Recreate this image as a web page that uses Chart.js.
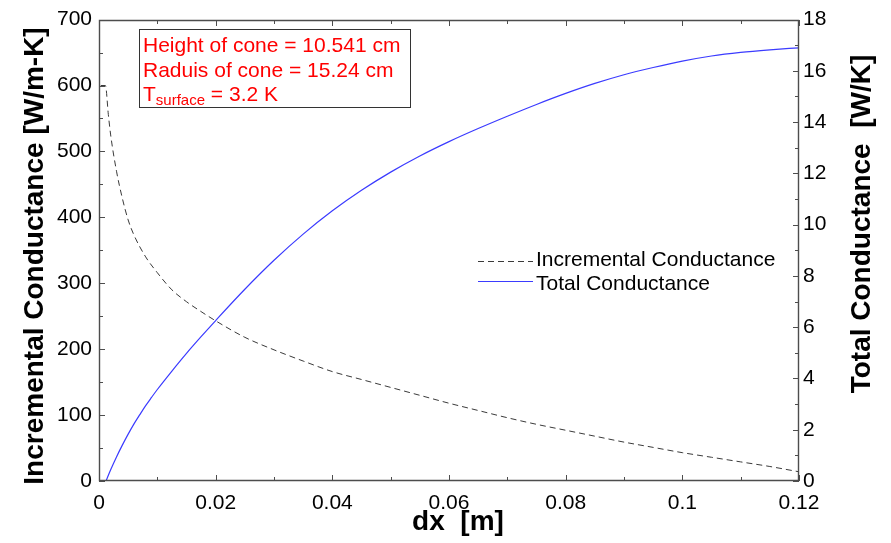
<!DOCTYPE html>
<html><head><meta charset="utf-8">
<script src="https://cdn.jsdelivr.net/npm/chart.js@4/dist/chart.umd.min.js"></script>
<style>html,body{margin:0;padding:0;background:#fff;}#wrap{position:relative;width:891px;height:543px;}</style>
</head><body><div id="wrap"><canvas id="c" width="891" height="543"></canvas></div>
<script>
// ---- data ----
const incDx  = [0.0003,0.0011,0.0016,0.002,0.003,0.004,0.005,0.006,0.008,0.010,0.0125,0.015,0.0175,0.02,0.025,0.03,0.035,0.04,0.045,0.05,0.055,0.06,0.065,0.07,0.075,0.08,0.085,0.09,0.095,0.1,0.105,0.11,0.115,0.12];
const incVal = [600,600,556,525,470,429,396,373,340,316,290,272,257,243,218,199,182,166,154,142,130,118,107,96,86,77,68,59,51,43,36,29,22,14];
const totDx  = [0.0012,0.002,0.003,0.004,0.005,0.006,0.007,0.008,0.009,0.010,0.0125,0.015,0.0175,0.02,0.025,0.03,0.035,0.04,0.045,0.05,0.055,0.06,0.065,0.07,0.075,0.08,0.085,0.09,0.095,0.1,0.105,0.11,0.115,0.12];
const totVal = [0,0.44,0.94,1.40,1.83,2.23,2.59,2.94,3.26,3.57,4.29,4.98,5.63,6.26,7.48,8.61,9.63,10.54,11.34,12.05,12.68,13.24,13.75,14.23,14.69,15.12,15.51,15.85,16.13,16.38,16.58,16.72,16.82,16.90];
const seriesNames = ['Incremental Conductance','Total Conductance'];
const xTicks = [0,0.02,0.04,0.06,0.08,0.1,0.12];
const xTickLabels = ['0','0.02','0.04','0.06','0.08','0.1','0.12'];
const leftTicks = [0,100,200,300,400,500,600,700];
const rightTicks = [0,2,4,6,8,10,12,14,16,18];
const xTitle = 'dx  [m]';
const leftTitle = 'Incremental Conductance [W/m-K]';
const rightTitle = 'Total Conductance  [W/K]';
const noteLines = ['Height of cone = 10.541 cm','Raduis of cone = 15.24 cm'];
const noteLast = ['T','surface',' = 3.2 K'];

const FONT = 'Liberation Sans, Arial, sans-serif';

const decor = {
  id:'decor',
  afterDraw(chart){
    const ctx = chart.ctx, a = chart.chartArea;
    const sx = chart.scales.x, sl = chart.scales.y, sr = chart.scales.y2;
    ctx.save();
    ctx.setLineDash([]);
    ctx.globalAlpha = 1;
    // frame
    ctx.strokeStyle = '#4d4d4d'; ctx.lineWidth = 1.4;
    const L = Math.round(sx.getPixelForValue(0)), R = Math.round(sx.getPixelForValue(0.12));
    const T = Math.round(sl.getPixelForValue(700)), B = Math.round(sl.getPixelForValue(0));
    ctx.beginPath();
    ctx.rect(L + 0.5, T + 0.5, R - L - 1, B - T - 1);
    ctx.stroke();
    ctx.lineWidth = 1;
    ctx.beginPath();
    for (let i=0;i<=12;i++){
      const px = Math.round(sx.getPixelForValue(i*0.01)) + 0.5, len = i%2===0?6:4;
      ctx.moveTo(px, B); ctx.lineTo(px, B-len);
      ctx.moveTo(px, T); ctx.lineTo(px, T+len);
    }
    for (let i=0;i<=14;i++){
      const py = Math.round(sl.getPixelForValue(i*50)) + 0.5, len = i%2===0?6:4;
      ctx.moveTo(L, py); ctx.lineTo(L+len, py);
    }
    for (let i=0;i<=18;i++){
      const py = Math.round(sr.getPixelForValue(i)) + 0.5, len = i%2===0?6:4;
      ctx.moveTo(R, py); ctx.lineTo(R-len, py);
    }
    ctx.stroke();
    // axis titles
    ctx.fillStyle = '#000';
    ctx.font = 'bold 28px ' + FONT;
    ctx.textAlign = 'center'; ctx.textBaseline = 'middle';
    ctx.fillText(xTitle, 458, 522);
    ctx.save(); ctx.translate(35, 256); ctx.rotate(-Math.PI/2); ctx.fillText(leftTitle, 0, 0); ctx.restore();
    ctx.save(); ctx.translate(862, 224); ctx.rotate(-Math.PI/2); ctx.fillText(rightTitle, 0, 0); ctx.restore();
    // legend
    ctx.font = '21px ' + FONT; ctx.textAlign = 'left'; ctx.textBaseline = 'alphabetic';
    const legY = [261.5, 281.5], legBase = [266, 289.5];
    chart.data.datasets.forEach((ds, i) => {
      ctx.save();
      ctx.strokeStyle = ds.borderColor; ctx.lineWidth = 1; ctx.setLineDash(ds.borderDash || []);
      ctx.beginPath(); ctx.moveTo(478, legY[i]); ctx.lineTo(533, legY[i]); ctx.stroke();
      ctx.restore();
      ctx.fillStyle = '#000';
      ctx.fillText(ds.label, 536, legBase[i]);
    });
    // note box
    ctx.fillStyle = '#fff'; ctx.fillRect(139.5, 29.5, 271, 78);
    ctx.strokeStyle = '#333'; ctx.lineWidth = 1; ctx.strokeRect(139.5, 29.5, 271, 78);
    ctx.fillStyle = '#ff0000'; ctx.font = '21px ' + FONT;
    ctx.fillText(noteLines[0], 143, 52);
    ctx.fillText(noteLines[1], 143, 76.5);
    let x = 143;
    ctx.fillText(noteLast[0], x, 100.5); x += ctx.measureText(noteLast[0]).width;
    ctx.font = '15px ' + FONT; ctx.fillText(noteLast[1], x, 104.5); x += ctx.measureText(noteLast[1]).width;
    ctx.font = '21px ' + FONT; ctx.fillText(noteLast[2], x, 100.5);
    ctx.restore();
  }
};

const tickFont = {family: FONT, size: 21};
new Chart(document.getElementById('c'), {
  type: 'line',
  data: {
    datasets: [
      {label: seriesNames[0], data: incDx.map((x,i)=>({x, y: incVal[i]})), yAxisID: 'y',
       borderColor: '#3a3a3a', borderWidth: 1, borderDash: [6,4], pointRadius: 0, cubicInterpolationMode: 'monotone', fill: false},
      {label: seriesNames[1], data: totDx.map((x,i)=>({x, y: totVal[i]})), yAxisID: 'y2',
       borderColor: '#3b3bff', borderWidth: 1.2, pointRadius: 0, cubicInterpolationMode: 'monotone', fill: false}
    ]
  },
  options: {
    responsive: false, animation: false, devicePixelRatio: 1,
    layout: {padding: {top: 18, left: 0, right: 0, bottom: 0}},
    plugins: {legend: {display: false}, tooltip: {enabled: false}},
    scales: {
      x: {type: 'linear', min: 0, max: 0.12,
          afterBuildTicks: s => { s.ticks = xTicks.map(v => ({value: v})); },
          afterFit: s => { s.height = 62; },
          grid: {display: false, drawTicks: false}, border: {display: false},
          ticks: {font: tickFont, color: '#000', padding: 10, maxRotation: 0, autoSkip: false,
                  callback: v => xTickLabels[xTicks.indexOf(v)]}},
      y: {type: 'linear', position: 'left', min: 0, max: 700,
          afterBuildTicks: s => { s.ticks = leftTicks.map(v => ({value: v})); },
          afterFit: s => { s.width = 99; },
          grid: {display: false, drawTicks: false}, border: {display: false},
          ticks: {font: tickFont, color: '#000', padding: 7, autoSkip: false}},
      y2: {type: 'linear', position: 'right', min: 0, max: 18,
          afterBuildTicks: s => { s.ticks = rightTicks.map(v => ({value: v})); },
          afterFit: s => { s.width = 92; },
          grid: {display: false, drawTicks: false}, border: {display: false},
          ticks: {font: tickFont, color: '#000', padding: 4, autoSkip: false}}
    }
  },
  plugins: [decor]
});
</script></body></html>
